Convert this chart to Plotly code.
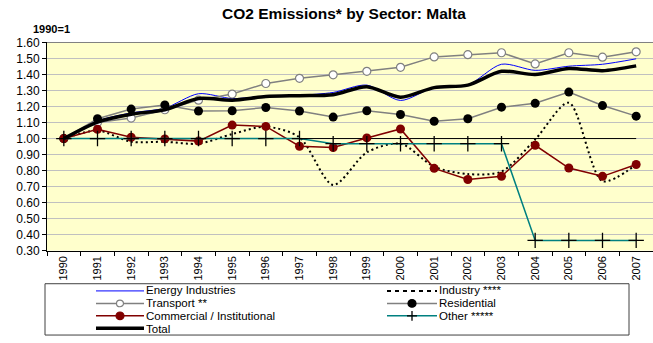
import plotly.graph_objects as go

# Index of CO2 emissions by sector, 1990 = 1
years = ["1990", "1991", "1992", "1993", "1994", "1995", "1996", "1997", "1998",
         "1999", "2000", "2001", "2002", "2003", "2004", "2005", "2006", "2007"]

energy = [1.00, 1.11, 1.16, 1.19, 1.28, 1.25, 1.265, 1.27, 1.288, 1.334, 1.238,
          1.32, 1.335, 1.464, 1.426, 1.452, 1.464, 1.498]
industry = [1.00, 1.05, 0.98, 0.98, 0.968, 1.028, 1.074, 1.008, 0.71, 0.914, 0.968,
            0.824, 0.778, 0.794, 0.994, 1.224, 0.734, 0.838]
transport = [1.00, 1.10, 1.128, 1.18, 1.24, 1.278, 1.344, 1.376, 1.398, 1.42, 1.445,
             1.51, 1.524, 1.536, 1.466, 1.536, 1.508, 1.542]
residential = [1.00, 1.124, 1.184, 1.21, 1.172, 1.174, 1.194, 1.172, 1.134, 1.174, 1.15,
               1.108, 1.124, 1.196, 1.22, 1.29, 1.206, 1.14]
commercial = [1.00, 1.058, 1.008, 0.998, 0.984, 1.084, 1.076, 0.952, 0.944, 1.004, 1.06,
              0.814, 0.744, 0.764, 0.958, 0.816, 0.764, 0.838]
other = [1.00, 1.00, 1.00, 1.00, 1.00, 1.00, 1.00, 1.00, 0.968, 0.968, 0.968,
         0.968, 0.968, 0.968, 0.364, 0.364, 0.364, 0.364]
total = [1.00, 1.103, 1.152, 1.18, 1.25, 1.24, 1.262, 1.268, 1.274, 1.324, 1.258,
         1.318, 1.334, 1.42, 1.40, 1.438, 1.424, 1.454]
baseline = [1.00] * len(years)

W, H = 653, 343
FONT = "Liberation Sans, Arial, sans-serif"

BLUE = "#0000FF"
GREY = "#808080"
MAROON = "#800000"
TEAL = "#008080"
BLACK = "#000000"

fig = go.Figure()

# reference line at the base-year level
fig.add_trace(go.Scatter(x=years, y=baseline, mode="lines",
                         line=dict(color=BLACK, width=1), showlegend=False,
                         hoverinfo="skip"))
fig.add_trace(go.Scatter(x=years, y=energy, mode="lines", name="Energy Industries",
                         line=dict(color=BLUE, width=1, shape="spline", smoothing=0.8)))
fig.add_trace(go.Scatter(x=years, y=industry, mode="lines", name="Industry ****",
                         line=dict(color=BLACK, width=2, dash="2px,3px",
                                   shape="spline", smoothing=0.8)))
fig.add_trace(go.Scatter(x=years, y=transport, mode="lines+markers", name="Transport **",
                         line=dict(color=GREY, width=1.5),
                         marker=dict(symbol="circle", size=8, color="white",
                                     line=dict(color=GREY, width=1.2))))
fig.add_trace(go.Scatter(x=years, y=residential, mode="lines+markers", name="Residential",
                         line=dict(color=GREY, width=1.5),
                         marker=dict(symbol="circle", size=9, color=BLACK)))
fig.add_trace(go.Scatter(x=years, y=commercial, mode="lines+markers",
                         name="Commercial / Institutional",
                         line=dict(color=MAROON, width=1.5),
                         marker=dict(symbol="circle", size=9, color=MAROON)))
fig.add_trace(go.Scatter(x=years, y=other, mode="lines+markers", name="Other *****",
                         line=dict(color=TEAL, width=1.5),
                         marker=dict(symbol="cross-thin", size=11,
                                     line=dict(color=BLACK, width=1.3))))
fig.add_trace(go.Scatter(x=years, y=total, mode="lines", name="Total",
                         line=dict(color=BLACK, width=3.5, shape="spline", smoothing=0.8)))

# plot area in pixels
PL, PR, PT, PB = 47, 653, 37, 254


def px(x):
    return x / W


def py(y):
    return 1 - y / H


shapes = []
annotations = []

# top border of the plot area
shapes.append(dict(type="line", xref="paper", yref="paper",
                   x0=px(PL), x1=px(PR), y0=py(PT), y1=py(PT),
                   line=dict(color=GREY, width=1)))

# legend frame
shapes.append(dict(type="rect", xref="paper", yref="paper",
                   x0=px(45), x1=px(629), y0=py(342), y1=py(288.5),
                   line=dict(color="#404040", width=1), fillcolor="white",
                   layer="above"))

# legend entries: (label, column, row, line style, marker)
legend_items = [
    ("Energy Industries", 0, 0, dict(color=BLUE, width=1), None),
    ("Transport **", 0, 1, dict(color=GREY, width=1.5), ("circle", "white", GREY, 3.5)),
    ("Commercial / Institutional", 0, 2, dict(color=MAROON, width=1.5), ("circle", MAROON, MAROON, 4)),
    ("Total", 0, 3, dict(color=BLACK, width=3.5), None),
    ("Industry ****", 1, 0, dict(color=BLACK, width=2, dash="4px,4px"), None),
    ("Residential", 1, 1, dict(color=GREY, width=1.5), ("circle", BLACK, BLACK, 4)),
    ("Other *****", 1, 2, dict(color=TEAL, width=1.5), ("cross", None, BLACK, 5)),
]
col_x = [(96, 144), (387, 437)]
ROW0, ROW_STEP = 296, 13
LEG_FONT = 11.5

col_labels = {0: [], 1: []}
for label, col, row, lstyle, mk in legend_items:
    x0, x1 = col_x[col]
    y = ROW0 + row * ROW_STEP
    col_labels[col].append(label)
    shapes.append(dict(type="line", xref="paper", yref="paper",
                       x0=px(x0), x1=px(x1), y0=py(y), y1=py(y),
                       line=lstyle, layer="above"))
    if mk is not None:
        kind, fill, edge, r = mk
        xm = (x0 + x1) / 2
        if kind == "circle":
            shapes.append(dict(type="circle", xref="paper", yref="paper",
                               x0=px(xm - r), x1=px(xm + r), y0=py(y + r), y1=py(y - r),
                               fillcolor=fill, line=dict(color=edge, width=1.2),
                               layer="above"))
        else:
            shapes.append(dict(type="line", xref="paper", yref="paper",
                               x0=px(xm - r), x1=px(xm + r), y0=py(y), y1=py(y),
                               line=dict(color=edge, width=1.3), layer="above"))
            shapes.append(dict(type="line", xref="paper", yref="paper",
                               x0=px(xm), x1=px(xm), y0=py(y - r), y1=py(y + r),
                               line=dict(color=edge, width=1.3), layer="above"))

# one text block per legend column; the base font sets the line pitch
for col, labels in col_labels.items():
    n = len(labels)
    text = "<br>".join(f"<span style='font-size:{LEG_FONT}px'>{t}</span>" for t in labels)
    y_mid = ROW0 + (n - 1) * ROW_STEP / 2
    annotations.append(dict(text=text, xref="paper", yref="paper",
                            x=px(col_x[col][1] + 1), y=py(y_mid),
                            xanchor="left", yanchor="middle", align="left",
                            showarrow=False, borderpad=0,
                            font=dict(family=FONT, size=ROW_STEP / 1.3, color=BLACK)))

# index base label above the value axis
annotations.append(dict(text="<b>1990=1</b>", xref="paper", yref="paper",
                        x=px(31), y=py(23), xanchor="left", yanchor="middle",
                        showarrow=False, font=dict(family=FONT, size=11, color=BLACK)))

fig.update_layout(
    width=W, height=H,
    margin=dict(l=0, r=0, t=0, b=0),
    paper_bgcolor="white",
    plot_bgcolor="#FFFFCC",
    showlegend=False,
    font=dict(family=FONT, size=12, color=BLACK),
    title=dict(text="<b>CO2 Emissions* by Sector: Malta</b>",
               x=344 / W, xanchor="center", y=1 - 14 / H, yanchor="middle",
               font=dict(family=FONT, size=15.5, color=BLACK)),
    xaxis=dict(type="category", domain=[PL / W, 1], range=[-0.5, 17.5],
               showgrid=False, showline=True, linecolor=BLACK, linewidth=1,
               ticks="outside", ticklen=4, tickcolor=BLACK, tickson="boundaries",
               tickangle=-90, tickfont=dict(family=FONT, size=11, color=BLACK),
               zeroline=False, fixedrange=True),
    yaxis=dict(domain=[1 - PB / H, 1 - PT / H], range=[0.30, 1.60],
               dtick=0.1, tick0=0.3, tickformat=".2f",
               showgrid=True, gridcolor="#C0C0C0", gridwidth=1,
               showline=True, linecolor=BLACK, linewidth=1,
               ticks="outside", ticklen=4, tickcolor=BLACK,
               tickfont=dict(family=FONT, size=12, color=BLACK),
               zeroline=False, fixedrange=True),
    shapes=shapes,
    annotations=annotations,
)

fig.write_html("out.html")
